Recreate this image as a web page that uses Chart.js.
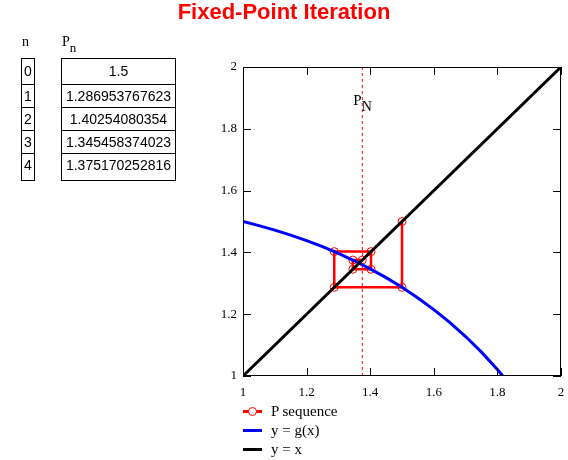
<!DOCTYPE html>
<html>
<head>
<meta charset="utf-8">
<script src="https://cdn.jsdelivr.net/npm/chart.js@4/dist/chart.umd.min.js"></script>
<style>
  body { margin: 0; background: #fff; }
  #wrap { position: relative; width: 568px; height: 460px; overflow: hidden; }
  #title { position: absolute; left: 0; top: 0; width: 568px; text-align: center;
           font: bold 22px "Liberation Sans", Arial, sans-serif; color: #ff0000; line-height: 24px; }
  .hdr { position: absolute; font: 14px "Liberation Serif", serif; color: #000; }
  .hdr sub { font-size: 13px; vertical-align: -6px; }
  .col { position: absolute; border: 1px solid #000; font: 14px "Liberation Sans", Arial, sans-serif; color: #000; }
  .col div { border-top: 1px solid #000; text-align: center; line-height: 22px; height: 22px; }
  .col div:first-child { border-top: none; height: 25px; line-height: 25px; }
  .col div:last-child { height: 26px; }
  #legend { position: absolute; left: 243px; top: 402px; font: 15px "Liberation Serif", serif; color: #000; }
  .li { position: relative; height: 19px; line-height: 19px; }
  .sw { position: absolute; left: 0; top: 8px; width: 19px; height: 3px; }
  .dot { position: absolute; left: 5px; top: -3px; width: 7px; height: 7px; border: 1px solid #ff0000; border-radius: 50%; background: #fff; }
  .li span { position: absolute; left: 28px; top: 0; white-space: nowrap; }
  #pn { position: absolute; font: 15px "Liberation Serif", serif; color: #000; }
  #pn sub { font-size: 14px; vertical-align: -6px; }
  canvas { position: absolute; left: 0; top: 0; }
</style>
</head>
<body>
<div id="wrap">
  <canvas id="chart" width="568" height="460"></canvas>
  <div id="title">Fixed-Point Iteration</div>
  <div class="hdr" style="left:22px;top:34px;">n</div>
  <div class="hdr" style="left:62px;top:34px;">P<sub>n</sub></div>
  <div class="col" id="colN" style="left:21px;top:58px;width:12px;"></div>
  <div class="col" id="colP" style="left:61px;top:58px;width:113px;"></div>
  <div id="pn">P<sub>N</sub></div>
  <div id="legend">
    <div class="li"><div class="sw" style="background:#ff0000"><div class="dot"></div></div><span>P sequence</span></div>
    <div class="li"><div class="sw" style="background:#0000ff"></div><span>y = g(x)</span></div>
    <div class="li"><div class="sw" style="background:#000000"></div><span>y = x</span></div>
  </div>
</div>
<script>
// iteration table
const nIdx = [0, 1, 2, 3, 4];
const pText = ["1.5", "1.286953767623", "1.40254080354", "1.345458374023", "1.375170252816"];
const pSeq = [1.5, 1.286953767623, 1.40254080354, 1.345458374023, 1.375170252816];

// g(x) curve
const gX = [1.0, 1.05, 1.1, 1.15, 1.2, 1.25, 1.3, 1.35, 1.4, 1.45, 1.5, 1.55, 1.6, 1.65, 1.7, 1.75, 1.8, 1.817];
const gY = [1.5, 1.4868, 1.4722, 1.4559, 1.4381, 1.4184, 1.3967, 1.3729, 1.3468, 1.3183, 1.287, 1.2526, 1.2149, 1.1735, 1.1277, 1.0772, 1.0208, 1.0];

// y = x line
const idX = [1, 2];
const idY = [1, 2];

// axes
const xRange = [1, 2];
const yRange = [1, 2];
const tickStep = 0.2;

nIdx.forEach((n, i) => {
    const a = document.createElement("div");
    a.textContent = n;
    document.getElementById("colN").appendChild(a);
    const b = document.createElement("div");
    b.textContent = pText[i];
    document.getElementById("colP").appendChild(b);
});

// cobweb path
let cob = [{ x: pSeq[0], y: pSeq[0] }];
for (let i = 0; i < pSeq.length - 1; i++) {
    cob.push({ x: pSeq[i], y: pSeq[i + 1] });
    cob.push({ x: pSeq[i + 1], y: pSeq[i + 1] });
}
const pN = pSeq[pSeq.length - 1];

const boxTicks = {
    id: "boxTicks",
    afterDatasetsDraw(chart) {
        const ctx = chart.ctx;
        const a = chart.chartArea;
        const xs = chart.scales.x, ys = chart.scales.y;
        ctx.save();
        ctx.strokeStyle = "#000";
        ctx.lineWidth = 1;
        ctx.strokeRect(a.left + 0.5, a.top + 0.5, a.right - a.left - 1, a.bottom - a.top - 1);
        ctx.beginPath();
        xs.ticks.forEach((t) => {
            const px = Math.round(xs.getPixelForValue(t.value)) + 0.5;
            ctx.moveTo(px, a.bottom); ctx.lineTo(px, a.bottom - 8);
            ctx.moveTo(px, a.top); ctx.lineTo(px, a.top + 8);
        });
        ys.ticks.forEach((t) => {
            const py = Math.round(ys.getPixelForValue(t.value)) + 0.5;
            ctx.moveTo(a.left, py); ctx.lineTo(a.left + 8, py);
            ctx.moveTo(a.right, py); ctx.lineTo(a.right - 8, py);
        });
        ctx.stroke();
        ctx.restore();
        const lab = document.getElementById("pn");
        lab.style.left = (xs.getPixelForValue(pN) - 9) + "px";
        lab.style.top = (a.top + 25) + "px";
    },
};

const fmt = (v) => String(Math.round(v * 10) / 10);

const chartData = {
    datasets: [
        {
            label: "y = x",
            data: idX.map((x, i) => ({ x: x, y: idY[i] })),
            borderColor: "#000000",
            borderWidth: 3,
            pointRadius: 0,
            order: 1,
        },
        {
            label: "y = g(x)",
            data: gX.map((x, i) => ({ x: x, y: gY[i] })),
            borderColor: "#0000ff",
            borderWidth: 3,
            pointRadius: 0,
            order: 2,
        },
        {
            label: "P sequence",
            data: cob,
            borderColor: "#ff0000",
            borderWidth: 2.5,
            pointRadius: 4,
            pointBorderWidth: 1,
            pointBorderColor: "#ff0000",
            pointBackgroundColor: "rgba(0,0,0,0)",
            order: 3,
        },
        {
            label: "P_N",
            data: [{ x: pN, y: yRange[0] }, { x: pN, y: yRange[1] }],
            borderColor: "#ff0000",
            borderWidth: 1,
            borderDash: [3, 3],
            pointRadius: 0,
            order: 4,
        },
    ],
};

const config = {
    type: "line",
    data: chartData,
    options: {
        responsive: false,
        animation: false,
        layout: { padding: { left: 213, top: 67, right: 7, bottom: 54 } },
        plugins: { legend: { display: false }, tooltip: { enabled: false } },
        scales: {
            x: {
                type: "linear",
                min: xRange[0],
                max: xRange[1],
                afterFit: (s) => { s.height = 30; s.paddingLeft = 0; s.paddingRight = 0; },
                grid: { display: false, drawTicks: false, tickLength: 0 },
                border: { display: false },
                ticks: { stepSize: tickStep, color: "#000", padding: 9, maxRotation: 0, callback: fmt,
                         font: { family: "Liberation Serif", size: 13 } },
            },
            y: {
                type: "linear",
                min: yRange[0],
                max: yRange[1],
                afterFit: (s) => { s.width = 30; s.paddingTop = 0; s.paddingBottom = 0; },
                grid: { display: false, drawTicks: false, tickLength: 0 },
                border: { display: false },
                ticks: { stepSize: tickStep, color: "#000", padding: 6, callback: fmt,
                         font: { family: "Liberation Serif", size: 13 } },
            },
        },
    },
    plugins: [boxTicks],
};

var myChart = new Chart(document.getElementById("chart"), config);
</script>
</body>
</html>
